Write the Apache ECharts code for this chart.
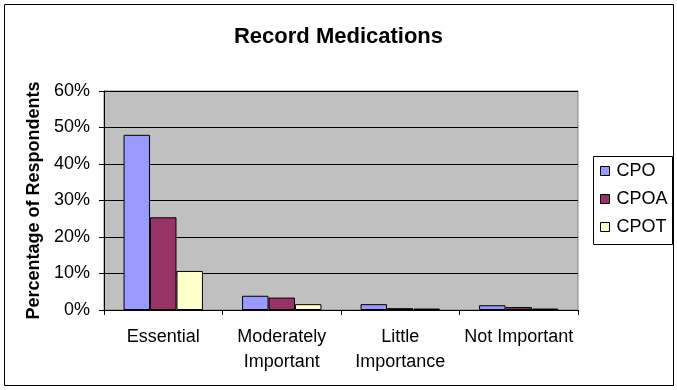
<!DOCTYPE html>
<html>
<head>
<meta charset="utf-8">
<script src="https://cdn.jsdelivr.net/npm/echarts@6/dist/echarts.min.js"></script>
<style>html,body{margin:0;padding:0;background:#fff;}#c{width:677px;height:390px;}</style>
</head>
<body>
<div id="c"></div>
<script>
var categories = ['Essential', 'Moderately\nImportant', 'Little\nImportance', 'Not Important'];
var seriesNames = ['CPO', 'CPOA', 'CPOT'];
var cpo = [48.0, 3.9, 1.6, 1.3];
var cpoa = [25.4, 3.4, 0.5, 0.8];
var cpot = [10.7, 1.6, 0.4, 0.4];
var colors = ['#9999FF', '#993366', '#FFFFCC'];
var FONT = 'Arial, "Liberation Sans", sans-serif';

var chart = echarts.init(document.getElementById('c'), null, {renderer: 'canvas'});
var data = [cpo, cpoa, cpot];
chart.setOption({
  animation: false,
  backgroundColor: '#fff',
  title: {
    text: 'Record Medications', left: 'center', top: 21,
    textStyle: {fontFamily: FONT, fontSize: 22, fontWeight: 'bold', color: '#000'}
  },
  graphic: [
    {type: 'rect', shape: {x: 4.5, y: 4.5, width: 669, height: 381}, style: {fill: 'none', stroke: '#000', lineWidth: 1}, z: -1},
    {type: 'rect', shape: {x: 593.5, y: 156.5, width: 79, height: 88}, style: {fill: '#fff', stroke: '#000', lineWidth: 1}, z: 0}
  ],
  legend: {
    orient: 'vertical', left: 600, top: 162, padding: 0, itemGap: 10,
    itemWidth: 9, itemHeight: 9, icon: 'rect',
    itemStyle: {borderColor: '#000', borderWidth: 1},
    textStyle: {fontFamily: FONT, fontSize: 18, color: '#000', padding: [0,0,0,2]},
    data: seriesNames, z: 5
  },
  grid: {
    left: 104, right: 99, top: 91, bottom: 80,
    show: true, backgroundColor: '#C0C0C0', borderColor: '#808080', borderWidth: 1
  },
  xAxis: {
    type: 'category', data: categories,
    axisLine: {lineStyle: {color: '#000', width: 1}},
    axisTick: {show: true, alignWithLabel: false, length: 5, lineStyle: {color: '#000'}},
    axisLabel: {fontFamily: FONT, fontSize: 18, color: '#000', lineHeight: 25, margin: 15, interval: 0}
  },
  yAxis: {
    type: 'value', min: 0, max: 60, interval: 10,
    name: 'Percentage of Respondents', nameLocation: 'middle', nameGap: 56,
    nameTextStyle: {fontFamily: FONT, fontSize: 18, fontWeight: 'bold', color: '#000'},
    axisLine: {show: true, lineStyle: {color: '#000', width: 1}},
    axisTick: {show: true, inside: false, length: 5, lineStyle: {color: '#000'}},
    axisLabel: {fontFamily: FONT, fontSize: 18, color: '#000', margin: 14, formatter: '{value}%'},
    splitLine: {show: true, lineStyle: {color: '#000', width: 1}}
  },
  series: seriesNames.map(function (n, i) {
    return {
      name: n, type: 'bar', data: data[i],
      barGap: '0%', barCategoryGap: '33%',
      itemStyle: {color: colors[i], borderColor: '#000', borderWidth: 1}
    };
  })
});
</script>
</body>
</html>
